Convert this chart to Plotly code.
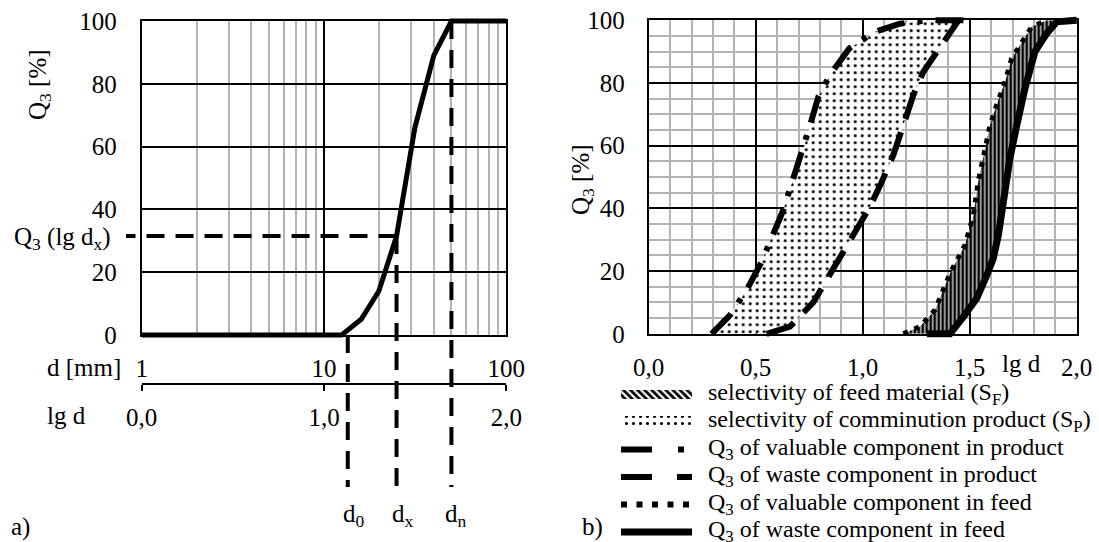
import numpy as np
import plotly.graph_objects as go

# ------------------------------------------------------------------ data
# panel a)  cumulative distribution Q3 over particle size d
d_mm = [1, 12.5, 16, 20, 25, 31.5, 40, 50, 100]
q3_a = [0, 0, 5, 14, 31.5, 66, 89, 100, 100]
d_0, d_x, d_n = 13.5, 25.0, 50.0
q3_at_dx = 31.5
lgd_tick_vals = [0.0, 1.0, 2.0]
lgd_tick_text = ["0,0", "1,0", "2,0"]
d_minor_vals = [2, 3, 4, 5, 6, 7, 8, 9, 20, 30, 40, 50, 60, 70, 80, 90]

# panel b)  Q3 over lg d
lg_val_prod = [0.294, 0.38, 0.458, 0.528, 0.629, 0.676, 0.715, 0.754, 0.793, 0.847, 0.937, 1.058, 1.174, 1.314, 1.5]
q_val_prod = [0, 6, 14, 23, 39.5, 49.5, 57, 66.5, 75.6, 82.5, 91, 96.3, 98.9, 100, 100]

lg_waste_prod = [0.551, 0.66, 0.769, 0.816, 0.894, 0.972, 1.034, 1.089, 1.143, 1.19, 1.236, 1.283, 1.346, 1.408, 1.448]
q_waste_prod = [0, 2.3, 10, 15.5, 25, 33.6, 40.5, 48.5, 57, 66.5, 76, 83.5, 90, 96.3, 100]

lg_val_feed = [1.19, 1.268, 1.338, 1.408, 1.478, 1.517, 1.54, 1.571, 1.595, 1.626, 1.665, 1.696, 1.743, 1.79, 1.86]
q_val_feed = [0, 2.3, 7.6, 19.3, 28.3, 37.8, 48.5, 59, 66.5, 73, 80.3, 87.8, 93, 97.9, 100]

lg_waste_feed = [1.30, 1.408, 1.47, 1.533, 1.58, 1.61, 1.634, 1.657, 1.688, 1.72, 1.758, 1.805, 1.86, 1.907, 2.0]
q_waste_feed = [0, 0, 5.4, 11.3, 18.7, 24, 31.5, 42, 56, 66.5, 78.2, 90, 95.8, 99.5, 100]

b_tick_vals = [0.0, 0.5, 1.0, 1.5, 2.0]
b_tick_text = ["0,0", "0,5", "1,0", "1,5", "2,0"]

legend_labels = [
    "selectivity of feed material (S<sub>F</sub>)",
    "selectivity of comminution product (S<sub>P</sub>)",
    "Q<sub>3</sub> of valuable component in product",
    "Q<sub>3</sub> of waste component in product",
    "Q<sub>3</sub> of valuable component in feed",
    "Q<sub>3</sub> of waste component in feed",
]

# ------------------------------------------------------------------ geometry (pixels)
W, H = 1099, 542
FONT = "Liberation Serif, Times New Roman, Times, serif"
A_L, A_R, A_T, A_B = 141.7, 506.3, 21.0, 335.0
B_L, B_R, B_T, B_B = 648.7, 1076.7, 20.2, 333.8
LGD_AXIS_Y = 384.3
GUIDE_BOTTOM = {"d0": 487.0, "dx": 492.0, "dn": 487.0}
GUIDE_LEFT_PX = 126.0
LEG_SYM_X = (621.0, 692.0)
LEG_TEXT_X = 706.0
LEG_ROWS = [394.5, 422.0, 449.5, 477.0, 504.5, 532.0]


def xp(px):
    return px / W


def yp(py):
    return 1 - py / H


def a_q(py):  # pixel row -> Q value in panel a
    return (A_B - py) / (A_B - A_T) * 100


def a_lg(px):  # pixel column -> lg d in panel a
    return (px - A_L) / (A_R - A_L) * 2


def b_q(py):
    return (B_B - py) / (B_B - B_T) * 100


def b_lg(px):
    return (px - B_L) / (B_R - B_L) * 2


BLACK = "black"
GRAY = "#b4b4b4"
CLEAR = "rgba(0,0,0,0)"

fig = go.Figure()

# -------- panel b fills (clipped to plot area, under the frame)
poly_p_x = lg_val_prod + lg_waste_prod[::-1]
poly_p_y = q_val_prod + q_waste_prod[::-1]
fig.add_trace(go.Scatter(
    x=poly_p_x, y=poly_p_y, xaxis="x2", yaxis="y2", mode="lines", fill="toself",
    line=dict(width=0, color=CLEAR), fillcolor="white",
    fillpattern=dict(shape=".", size=7, solidity=0.15, fgcolor=BLACK, bgcolor="white", fillmode="replace"),
    hoverinfo="skip"))
poly_f_x = lg_val_feed + lg_waste_feed[::-1]
poly_f_y = q_val_feed + q_waste_feed[::-1]
fig.add_trace(go.Scatter(
    x=poly_f_x, y=poly_f_y, xaxis="x2", yaxis="y2", mode="lines", fill="toself",
    line=dict(width=0, color=CLEAR), fillcolor="white",
    fillpattern=dict(shape="|", size=4, solidity=0.7, fgcolor=BLACK, bgcolor="white", fillmode="replace"),
    hoverinfo="skip"))

# dummy traces so that every axis pair is a drawn subplot
fig.add_trace(go.Scatter(x=[1, 100], y=[0, 0], xaxis="x", yaxis="y", mode="markers",
                         marker=dict(opacity=0), hoverinfo="skip"))
fig.add_trace(go.Scatter(x=lgd_tick_vals, y=[0, 0, 0], xaxis="x3", yaxis="y", mode="markers",
                         marker=dict(opacity=0), hoverinfo="skip"))

# -------- panel a curve and guides (unclipped overlay axes)
fig.add_trace(go.Scatter(x=d_mm, y=q3_a, xaxis="x4", yaxis="y4", mode="lines",
                         line=dict(color=BLACK, width=5), hoverinfo="skip"))
guide = dict(color=BLACK, width=4, dash="18px,11px")
d_left = 10 ** a_lg(GUIDE_LEFT_PX)
fig.add_trace(go.Scatter(x=[d_x, d_left], y=[q3_at_dx, q3_at_dx], xaxis="x4", yaxis="y4",
                         mode="lines", line=guide, hoverinfo="skip"))
fig.add_trace(go.Scatter(x=[d_0, d_0], y=[0, a_q(GUIDE_BOTTOM["d0"])], xaxis="x4", yaxis="y4",
                         mode="lines", line=guide, hoverinfo="skip"))
fig.add_trace(go.Scatter(x=[d_x, d_x], y=[q3_at_dx, a_q(GUIDE_BOTTOM["dx"])], xaxis="x4", yaxis="y4",
                         mode="lines", line=guide, hoverinfo="skip"))
fig.add_trace(go.Scatter(x=[d_n, d_n], y=[100, a_q(GUIDE_BOTTOM["dn"])], xaxis="x4", yaxis="y4",
                         mode="lines", line=guide, hoverinfo="skip"))

# -------- panel b lines (unclipped overlay axes)
fig.add_trace(go.Scatter(x=lg_waste_feed, y=q_waste_feed, xaxis="x5", yaxis="y5", mode="lines",
                         line=dict(color=BLACK, width=7), hoverinfo="skip"))
fig.add_trace(go.Scatter(x=lg_val_feed, y=q_val_feed, xaxis="x5", yaxis="y5", mode="lines",
                         line=dict(color=BLACK, width=5, dash="5px,7px"), hoverinfo="skip"))
fig.add_trace(go.Scatter(x=lg_waste_prod, y=q_waste_prod, xaxis="x5", yaxis="y5", mode="lines",
                         line=dict(color=BLACK, width=6, dash="30px,14px"), hoverinfo="skip"))
fig.add_trace(go.Scatter(x=lg_val_prod, y=q_val_prod, xaxis="x5", yaxis="y5", mode="lines",
                         line=dict(color=BLACK, width=6, dash="28px,13px,5px,13px"), hoverinfo="skip"))

# -------- legend swatches (pixel overlay axis)
x0, x1 = LEG_SYM_X
r = LEG_ROWS
fig.add_trace(go.Scatter(x=[x0, x1, x1, x0, x0], y=[r[0] - 4.5, r[0] - 4.5, r[0] + 4.5, r[0] + 4.5, r[0] - 4.5],
                         xaxis="x6", yaxis="y6", mode="lines", fill="toself", fillcolor="white",
                         line=dict(width=0, color=CLEAR),
                         fillpattern=dict(shape="\\", size=5, solidity=0.55, fgcolor=BLACK, bgcolor="white",
                                          fillmode="replace"), hoverinfo="skip"))
fig.add_trace(go.Scatter(x=[x0, x1, x1, x0, x0], y=[r[1] - 6, r[1] - 6, r[1] + 6, r[1] + 6, r[1] - 6],
                         xaxis="x6", yaxis="y6", mode="lines", fill="toself", fillcolor="white",
                         line=dict(width=0, color=CLEAR),
                         fillpattern=dict(shape=".", size=7, solidity=0.15, fgcolor=BLACK, bgcolor="white",
                                          fillmode="replace"), hoverinfo="skip"))
leg_lines = [
    (2, dict(color=BLACK, width=6, dash="31px,26px,6px,100px")),
    (3, dict(color=BLACK, width=6, dash="31px,25px")),
    (4, dict(color=BLACK, width=6, dash="6px,9.5px")),
    (5, dict(color=BLACK, width=7)),
]
for i, ln in leg_lines:
    fig.add_trace(go.Scatter(x=[x0, x1], y=[r[i], r[i]], xaxis="x6", yaxis="y6", mode="lines",
                             line=ln, hoverinfo="skip"))

# ------------------------------------------------------------------ layout
tickfont = dict(family=FONT, size=25, color=BLACK)
frame = dict(showline=True, linecolor=BLACK, linewidth=2, mirror=True, zeroline=False, ticks="",
             automargin=False)
hidden = dict(visible=False, automargin=False, showgrid=False, zeroline=False)

layout = dict(
    template="none",
    width=W, height=H, autosize=False,
    margin=dict(l=0, r=0, t=0, b=0, pad=0, autoexpand=False),
    paper_bgcolor="white", plot_bgcolor=CLEAR,
    showlegend=False,
    font=dict(family=FONT, size=25, color=BLACK),
    xaxis=dict(domain=[xp(A_L), xp(A_R)], anchor="y", type="log", range=[0, 2],
               tickvals=[1, 10, 100], ticktext=["1", "10", "100"],
               showgrid=True, gridcolor=BLACK, gridwidth=1.5,
               minor=dict(tickmode="array", tickvals=d_minor_vals, showgrid=True, gridcolor=GRAY,
                          gridwidth=1.5, ticks=""),
               tickfont=tickfont, ticklabelstandoff=10, **frame),
    yaxis=dict(domain=[yp(A_B), yp(A_T)], anchor="x", range=[0, 100], dtick=20, tick0=0,
               showgrid=True, gridcolor=BLACK, gridwidth=1.5,
               tickfont=tickfont, ticklabelstandoff=18, **frame),
    xaxis2=dict(domain=[xp(B_L), xp(B_R)], anchor="y2", range=[0, 2],
                tickvals=b_tick_vals, ticktext=b_tick_text,
                showgrid=True, gridcolor=BLACK, gridwidth=1.5,
                minor=dict(dtick=0.1, tick0=0, showgrid=True, gridcolor=GRAY, gridwidth=1.5, ticks=""),
                tickfont=tickfont, ticklabelstandoff=10, **frame),
    yaxis2=dict(domain=[yp(B_B), yp(B_T)], anchor="x2", range=[0, 100], dtick=20, tick0=0,
                showgrid=True, gridcolor=BLACK, gridwidth=1.5,
                minor=dict(dtick=5, tick0=0, showgrid=True, gridcolor=GRAY, gridwidth=1.5, ticks=""),
                tickfont=tickfont, ticklabelstandoff=17, **frame),
    xaxis3=dict(domain=[xp(A_L), xp(A_R)], anchor="free", position=yp(LGD_AXIS_Y), range=[0, 2],
                tickvals=lgd_tick_vals, ticktext=lgd_tick_text, showgrid=False, zeroline=False,
                showline=True, linecolor=BLACK, linewidth=2, ticks="outside", ticklen=6, tickwidth=2,
                tickcolor=BLACK, tickfont=tickfont, ticklabelstandoff=5, automargin=False),
    xaxis4=dict(domain=[0, 1], anchor="y4", type="log", range=[a_lg(0), a_lg(W)], **hidden),
    yaxis4=dict(domain=[0, 1], anchor="x4", range=[a_q(H), a_q(0)], **hidden),
    xaxis5=dict(domain=[0, 1], anchor="y5", range=[b_lg(0), b_lg(W)], **hidden),
    yaxis5=dict(domain=[0, 1], anchor="x5", range=[b_q(H), b_q(0)], **hidden),
    xaxis6=dict(domain=[0, 1], anchor="y6", range=[0, W], **hidden),
    yaxis6=dict(domain=[0, 1], anchor="x6", range=[H, 0], **hidden),
)


def ann(text, px, py, size=25, xanchor="center", yanchor="middle", angle=0):
    return dict(text=text, x=xp(px), y=yp(py), xref="paper", yref="paper", showarrow=False,
                xanchor=xanchor, yanchor=yanchor, textangle=angle,
                font=dict(family=FONT, size=size, color=BLACK))


annotations = [
    ann("Q<sub>3</sub> [%]", 40, 85, angle=-90),
    ann("Q<sub>3</sub> (lg d<sub>x</sub>)", 113, 238, xanchor="right"),
    ann("d [mm]", 45, 367, xanchor="left"),
    ann("lg d", 45, 415, xanchor="left"),
    ann("d<sub>0</sub>", 354, 515),
    ann("d<sub>x</sub>", 403, 515),
    ann("d<sub>n</sub>", 456, 515),
    ann("a)", 20, 527),
    ann("Q<sub>3</sub> [%]", 583, 180, angle=-90),
    ann("lg d", 1021, 363),
    ann("b)", 592, 527),
]
for i, lab in enumerate(legend_labels):
    annotations.append(ann(lab, LEG_TEXT_X, LEG_ROWS[i] - 1, size=24, xanchor="left"))
layout["annotations"] = annotations

fig.update_layout(**layout)
fig.write_html("out.html")
